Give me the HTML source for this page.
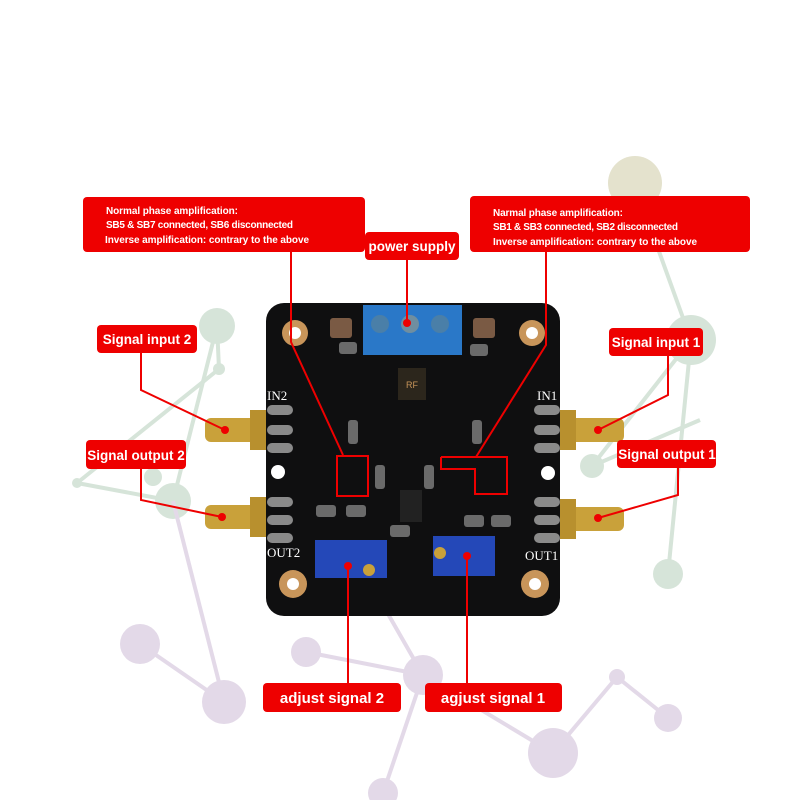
<!DOCTYPE html>
<html><head><meta charset="utf-8"><style>
html,body{margin:0;padding:0;background:#fff;}
svg{display:block}
text{font-family:"Liberation Sans",sans-serif;fill:#fff}
</style></head><body>
<svg width="800" height="800" viewBox="0 0 800 800" xmlns="http://www.w3.org/2000/svg">
<!-- background network -->
<g stroke="#d6e4d9" stroke-width="4" fill="none">
<line x1="635" y1="185" x2="691" y2="340"/><line x1="691" y1="340" x2="668" y2="574"/>
<line x1="691" y1="340" x2="592" y2="466"/><line x1="217" y1="326" x2="219" y2="369"/>
<line x1="219" y1="369" x2="77" y2="483"/><line x1="77" y1="483" x2="173" y2="501"/>
<line x1="173" y1="501" x2="217" y2="326"/><line x1="592" y1="466" x2="700" y2="420"/>
</g>
<g fill="#d6e4d9">
<circle cx="635" cy="183" r="27" fill="#e4e2cd"/><circle cx="217" cy="326" r="18"/>
<circle cx="691" cy="340" r="25"/><circle cx="219" cy="369" r="6"/><circle cx="77" cy="483" r="5"/>
<circle cx="153" cy="477" r="9"/><circle cx="173" cy="501" r="18"/><circle cx="592" cy="466" r="12"/>
<circle cx="668" cy="574" r="15"/>
</g>
<g stroke="#e3d9e8" stroke-width="4" fill="none">
<line x1="140" y1="644" x2="224" y2="702"/><line x1="224" y1="702" x2="173" y2="501"/>
<line x1="306" y1="652" x2="423" y2="675"/><line x1="423" y1="675" x2="553" y2="753"/>
<line x1="423" y1="675" x2="383" y2="793"/><line x1="617" y1="677" x2="668" y2="718"/>
<line x1="553" y1="753" x2="617" y2="677"/><line x1="423" y1="675" x2="380" y2="600"/>
</g>
<g fill="#e3d9e8">
<circle cx="140" cy="644" r="20"/><circle cx="224" cy="702" r="22"/><circle cx="306" cy="652" r="15"/>
<circle cx="423" cy="675" r="20"/><circle cx="617" cy="677" r="8"/><circle cx="668" cy="718" r="14"/>
<circle cx="553" cy="753" r="25"/><circle cx="383" cy="793" r="15"/>
</g>

<!-- SMA connectors -->
<g>
<rect x="205" y="418" width="60" height="24" rx="6" fill="#c9a13a"/>
<rect x="205" y="505" width="60" height="24" rx="6" fill="#c9a13a"/>
<rect x="562" y="418" width="62" height="24" rx="6" fill="#c9a13a"/>
<rect x="562" y="507" width="62" height="24" rx="6" fill="#c9a13a"/>
<rect x="250" y="410" width="16" height="40" fill="#b8902e"/><rect x="250" y="497" width="16" height="40" fill="#b8902e"/>
<rect x="560" y="410" width="16" height="40" fill="#b8902e"/><rect x="560" y="499" width="16" height="40" fill="#b8902e"/>
</g>
<!-- PCB -->
<rect x="266" y="303" width="294" height="313" rx="18" fill="#0f0f10"/>
<g fill="#c8955a">
<circle cx="295" cy="333" r="13"/><circle cx="532" cy="333" r="13"/>
<circle cx="293" cy="584" r="14"/><circle cx="535" cy="584" r="14"/>
</g>
<g fill="#fff">
<circle cx="295" cy="333" r="6"/><circle cx="532" cy="333" r="6"/>
<circle cx="293" cy="584" r="6"/><circle cx="535" cy="584" r="6"/>
<circle cx="278" cy="472" r="7"/><circle cx="548" cy="473" r="7"/>
</g>
<!-- terminal block -->
<rect x="363" y="305" width="99" height="50" fill="#2a78c8"/>
<circle cx="380" cy="324" r="9" fill="#4a7fa8"/><circle cx="410" cy="324" r="9" fill="#6f8ea0"/><circle cx="440" cy="324" r="9" fill="#4a7fa8"/>
<!-- caps -->
<rect x="330" y="318" width="22" height="20" rx="3" fill="#7a5a44"/><rect x="473" y="318" width="22" height="20" rx="3" fill="#7a5a44"/>
<!-- RF logo -->
<rect x="398" y="368" width="28" height="32" fill="#2c261c"/>
<text x="412" y="388" font-size="9" text-anchor="middle" style="fill:#c8955a">RF</text>
<!-- pins -->
<g fill="#8a8a8a">
<rect x="267" y="405" width="26" height="10" rx="5"/><rect x="267" y="425" width="26" height="10" rx="5"/><rect x="267" y="443" width="26" height="10" rx="5"/>
<rect x="267" y="497" width="26" height="10" rx="5"/><rect x="267" y="515" width="26" height="10" rx="5"/><rect x="267" y="533" width="26" height="10" rx="5"/>
<rect x="534" y="405" width="26" height="10" rx="5"/><rect x="534" y="425" width="26" height="10" rx="5"/><rect x="534" y="443" width="26" height="10" rx="5"/>
<rect x="534" y="497" width="26" height="10" rx="5"/><rect x="534" y="515" width="26" height="10" rx="5"/><rect x="534" y="533" width="26" height="10" rx="5"/>
</g>
<text x="267" y="400" font-size="13" style="font-family:'Liberation Serif',serif">IN2</text>
<text x="537" y="400" font-size="13" style="font-family:'Liberation Serif',serif">IN1</text>
<text x="267" y="557" font-size="13" style="font-family:'Liberation Serif',serif">OUT2</text>
<text x="525" y="560" font-size="13" style="font-family:'Liberation Serif',serif">OUT1</text>
<!-- IC -->
<rect x="400" y="490" width="22" height="32" fill="#222"/>
<g fill="#6a6a6a">
<rect x="348" y="420" width="10" height="24" rx="3"/><rect x="472" y="420" width="10" height="24" rx="3"/>
<rect x="424" y="465" width="10" height="24" rx="3"/><rect x="375" y="465" width="10" height="24" rx="3"/>
<rect x="316" y="505" width="20" height="12" rx="3"/><rect x="346" y="505" width="20" height="12" rx="3"/>
<rect x="464" y="515" width="20" height="12" rx="3"/><rect x="491" y="515" width="20" height="12" rx="3"/>
<rect x="339" y="342" width="18" height="12" rx="3"/><rect x="470" y="344" width="18" height="12" rx="3"/>
<rect x="390" y="525" width="20" height="12" rx="3"/>
</g>
<!-- potentiometers -->
<rect x="315" y="540" width="72" height="38" fill="#2448b8"/><circle cx="369" cy="570" r="6" fill="#c9a13a"/>
<rect x="433" y="536" width="62" height="40" fill="#2448b8"/><circle cx="440" cy="553" r="6" fill="#c9a13a"/>

<!-- red connectors -->
<g stroke="#e00" stroke-width="2" fill="none">
<polyline points="291,252 291,342 343,455"/>
<polyline points="546,252 546,345 476,457"/>
<line x1="407" y1="260" x2="407" y2="323"/>
<polyline points="141,353 141,390 225,430"/>
<polyline points="141,469 141,500 222,517"/>
<polyline points="668,356 668,395 598,430"/>
<polyline points="678,468 678,495 598,518"/>
<line x1="348" y1="566" x2="348" y2="683"/>
<line x1="467" y1="556" x2="467" y2="683"/>
<rect x="337" y="456" width="31" height="40"/>
<polyline points="441,457 507,457 507,494 475,494 475,469 441,469 441,457"/>
</g>
<g fill="#e00">
<circle cx="225" cy="430" r="4"/><circle cx="222" cy="517" r="4"/><circle cx="598" cy="430" r="4"/><circle cx="598" cy="518" r="4"/>
<circle cx="407" cy="323" r="4"/><circle cx="348" cy="566" r="4"/><circle cx="467" cy="556" r="4"/>
</g>

<!-- labels -->
<g fill="#ee0000">
<rect x="83" y="197" width="282" height="55" rx="4"/>
<rect x="470" y="196" width="280" height="56" rx="4"/>
<rect x="365" y="232" width="94" height="28" rx="4"/>
<rect x="97" y="325" width="100" height="28" rx="4"/>
<rect x="86" y="440" width="100" height="29" rx="4"/>
<rect x="609" y="328" width="94" height="28" rx="4"/>
<rect x="617" y="440" width="99" height="28" rx="4"/>
<rect x="263" y="683" width="138" height="29" rx="4"/>
<rect x="425" y="683" width="137" height="29" rx="4"/>
</g>
<g font-size="10" font-weight="bold">
<text x="106" y="214" textLength="132">Normal phase amplification:</text>
<text x="106" y="228" textLength="187">SB5 &amp; SB7 connected, SB6 disconnected</text>
<text x="105" y="243" textLength="204">Inverse amplification: contrary to the above</text>
<text x="493" y="216" textLength="130">Narmal phase amplification:</text>
<text x="493" y="230" textLength="185">SB1 &amp; SB3 connected, SB2 disconnected</text>
<text x="493" y="245" textLength="204">Inverse amplification: contrary to the above</text>
</g>
<g font-size="13.5" font-weight="bold">
<text x="412" y="251" text-anchor="middle">power supply</text>
<text x="147" y="344" text-anchor="middle">Signal input 2</text>
<text x="136" y="460" text-anchor="middle">Signal output 2</text>
<text x="656" y="347" text-anchor="middle">Signal input 1</text>
<text x="667" y="459" text-anchor="middle">Signal output 1</text>
<text x="332" y="703" text-anchor="middle" font-size="15">adjust signal 2</text>
<text x="493" y="703" text-anchor="middle" font-size="15">agjust signal 1</text>
</g>
</svg>
</body></html>
